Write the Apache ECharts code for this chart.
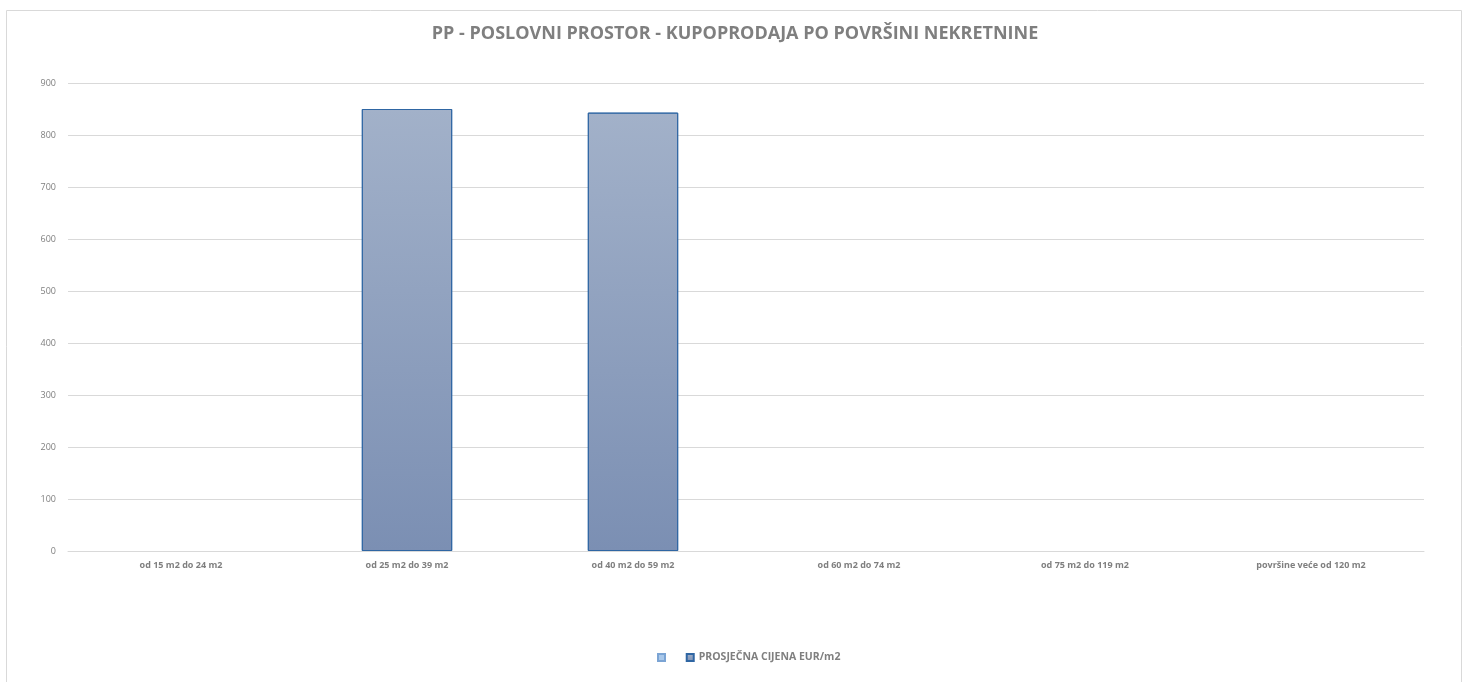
<!DOCTYPE html>
<html>
<head>
<meta charset="utf-8">
<script src="https://cdn.jsdelivr.net/npm/echarts@6/dist/echarts.min.js"></script>
<style>
  html, body { margin: 0; padding: 0; background: #fff; }
  #chart { width: 1470px; height: 682px; }
</style>
</head>
<body>
<div id="chart"></div>
<script>
// kategorije po površini
const categories = ['od 15 m2 do 24 m2', 'od 25 m2 do 39 m2', 'od 40 m2 do 59 m2',
    'od 60 m2 do 74 m2', 'od 75 m2 do 119 m2', 'površine veće od 120 m2'];
const emptySeries = [null, null, null, null, null, null];
const avgPrice = [null, 850, 843, null, null, null];
const yTicks = [0, 900, 100]; // min, max, interval

const font = 'Open Sans';
const chart = echarts.init(document.getElementById('chart'));
chart.setOption({
    textStyle: { fontFamily: font },
    title: {
        text: 'PP - POSLOVNI PROSTOR - KUPOPRODAJA PO POVRŠINI NEKRETNINE',
        left: 'center',
        top: 20,
        textStyle: { fontSize: 18, fontWeight: 'bold', color: '#7f7f7f', fontFamily: font }
    },
    graphic: [{
        type: 'rect',
        shape: { x: 6.5, y: 10.5, width: 1455, height: 680 },
        style: { fill: 'none', stroke: '#d9d9d9', lineWidth: 1 },
        silent: true
    }],
    grid: { left: 68, right: 46, top: 83, bottom: 131 },
    legend: {
        bottom: 14,
        left: 652,
        icon: 'rect',
        itemWidth: 7,
        itemHeight: 7,
        itemGap: 13,
        textStyle: { fontSize: 10.5, fontWeight: 'bold', color: '#7f7f7f', fontFamily: font },
        data: [' ', 'PROSJEČNA CIJENA EUR/m2']
    },
    xAxis: {
        type: 'category',
        data: categories,
        axisLine: { lineStyle: { color: '#d9d9d9' } },
        axisTick: { show: false },
        axisLabel: { color: '#7f7f7f', fontSize: 9, fontWeight: 'bold', margin: 10 }
    },
    yAxis: {
        type: 'value',
        min: yTicks[0],
        max: yTicks[1],
        interval: yTicks[2],
        axisLine: { show: false },
        axisTick: { show: false },
        axisLabel: { color: '#7f7f7f', fontSize: 9, margin: 12 },
        splitLine: { lineStyle: { color: '#d9d9d9' } }
    },
    series: [
        {
            name: ' ',
            type: 'bar',
            data: emptySeries,
            itemStyle: { color: '#a9c8ea', borderColor: '#7ba4d4', borderWidth: 1 }
        },
        {
            name: 'PROSJEČNA CIJENA EUR/m2',
            type: 'bar',
            data: avgPrice,
            barGap: '-100%',
            barCategoryGap: '60%',
            itemStyle: {
                color: new echarts.graphic.LinearGradient(0, 0, 0, 1, [
                    { offset: 0, color: '#a2b1c9' },
                    { offset: 1, color: '#7b8fb3' }
                ]),
                borderColor: '#2f66a3',
                borderWidth: 1
            }
        }
    ]
});
</script>
</body>
</html>
